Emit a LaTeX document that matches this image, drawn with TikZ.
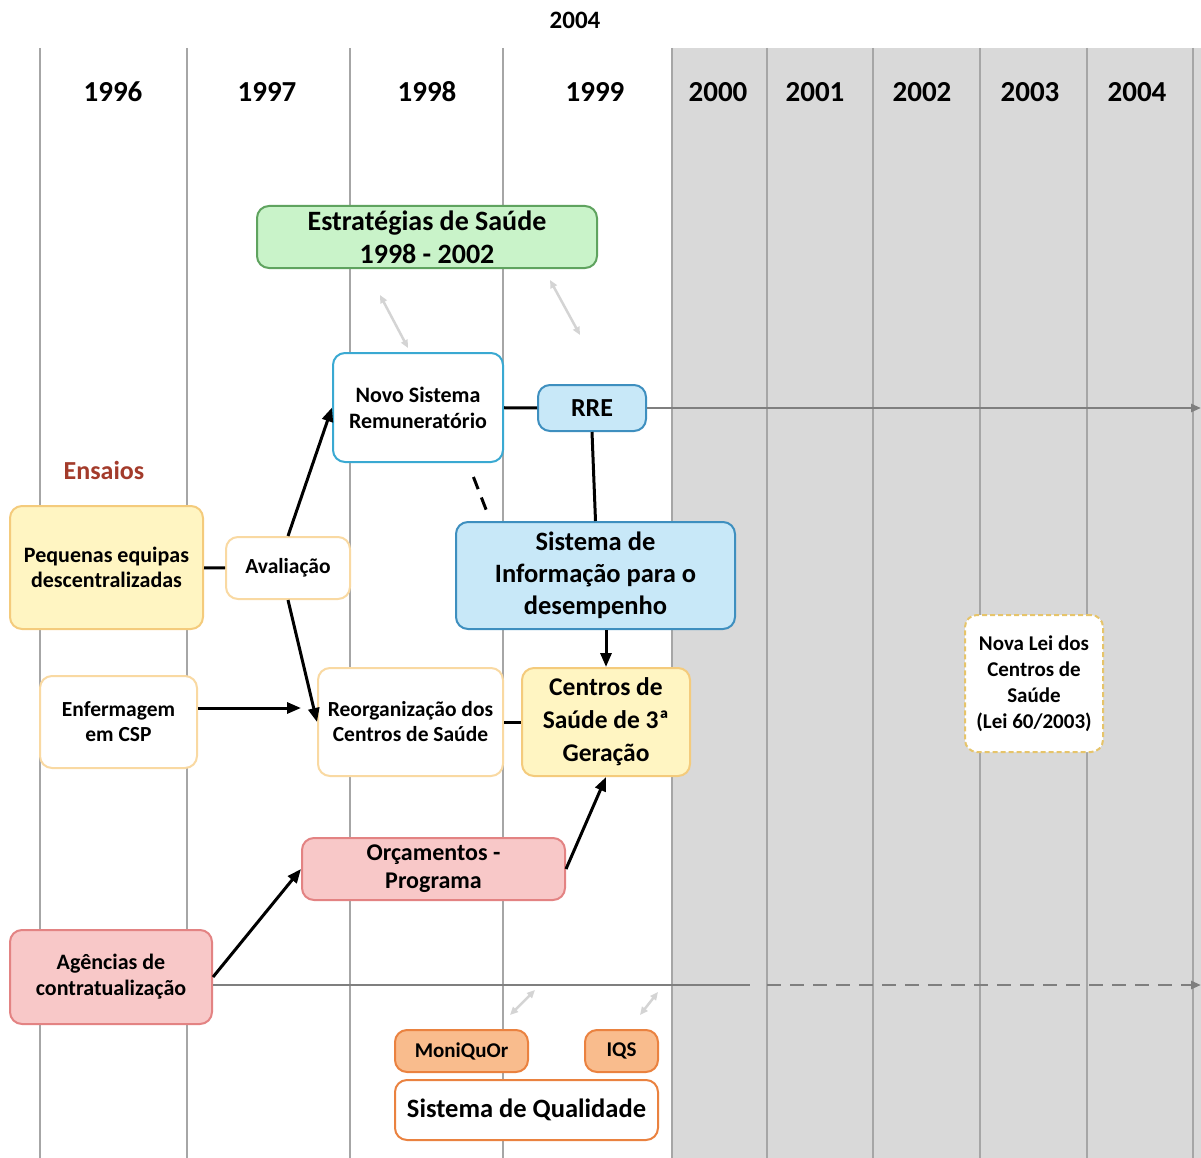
\documentclass[tikz,border=0pt]{standalone}
\usepackage{fontspec}
\setmainfont{Carlito}
\usetikzlibrary{arrows.meta}
\definecolor{shadegray}{HTML}{D9D9D9}
\definecolor{gridgray}{HTML}{A6A6A6}
\definecolor{arrowgray}{HTML}{7F7F7F}
\definecolor{faintgray}{HTML}{D4D4D4}
\definecolor{greenfill}{HTML}{C9F3C9}
\definecolor{greendraw}{HTML}{5FA35F}
\definecolor{bluefill}{HTML}{C8E8F8}
\definecolor{bluedraw}{HTML}{3E8FBF}
\definecolor{cyandraw}{HTML}{3AA9D2}
\definecolor{yellowfill}{HTML}{FFF5C2}
\definecolor{yellowdraw}{HTML}{F4CB7C}
\definecolor{paleorange}{HTML}{F9D9A2}
\definecolor{pinkfill}{HTML}{F8C8C8}
\definecolor{pinkdraw}{HTML}{E38383}
\definecolor{orangefill}{HTML}{F9BC8D}
\definecolor{orangedraw}{HTML}{EA8240}
\definecolor{ensaiored}{HTML}{A33B2B}
\definecolor{leidraw}{HTML}{E6C46A}
\newcommand\boxfont[2]{\fontsize{#1}{#2}\selectfont\bfseries}
\tikzset{
  box/.style={draw, rounded corners=12pt, line width=2pt, align=center, inner sep=2pt},
  greenbox/.style={box, draw=greendraw, fill=greenfill},
  bluebox/.style={box, draw=bluedraw, fill=bluefill},
  openblue/.style={box, draw=cyandraw, fill=white},
  yellowbox/.style={box, draw=yellowdraw, fill=yellowfill},
  whitebox/.style={box, draw=paleorange, fill=white},
  pinkbox/.style={box, draw=pinkdraw, fill=pinkfill},
  orangebox/.style={box, draw=orangedraw, fill=orangefill},
  qualbox/.style={box, draw=orangedraw, fill=white},
  leibox/.style={box, draw=leidraw, fill=white, dash pattern=on 5pt off 3pt},
  yearlabel/.style={font=\boxfont{29}{30}},
  gridline/.style={draw=gridgray, line width=1.5pt},
  link/.style={line width=3pt},
  arr/.style={line width=3pt, -{Triangle[length=14pt,width=11pt]}},
  grayarrow/.style={draw=arrowgray, line width=2.5pt, -{Triangle[length=10pt,width=8pt]}},
  faintarrow/.style={draw=faintgray, line width=2.5pt, {Triangle[length=8pt,width=7pt]}-{Triangle[length=8pt,width=7pt]}},
}
\begin{document}
\begin{tikzpicture}[x=1pt,y=-1pt]
\useasboundingbox (0,0) rectangle (1201,1158);
\fill[shadegray] (672,48) rectangle (1201,1158);
\foreach \x in {40,187,350,503,672,767,873,980,1087,1193}
  \draw[gridline] (\x,48) -- (\x,1158);
\node[font=\boxfont{25}{26}] (title) at (575,20) {2004};
\foreach \x/\yr in {113/1996,267/1997,427/1998,595/1999,718/2000,815/2001,922/2002,1030/2003,1137/2004}
  \node[yearlabel] (y\yr) at (\x,92) {\yr};

\node[greenbox, minimum width=340pt, minimum height=62pt, font=\boxfont{28}{33}] (est) at (427,237) {Estratégias de Saúde\\1998 - 2002};
\node[openblue, minimum width=170pt, minimum height=109pt, font=\boxfont{22}{26}] (nsr) at (418,407.5) {Novo Sistema\\Remuneratório};
\node[bluebox, minimum width=108pt, minimum height=46pt, font=\boxfont{26}{28}] (rre) at (592,408) {RRE};
\node[bluebox, minimum width=279pt, minimum height=107pt, font=\boxfont{26.5}{32}] (sid) at (595.5,575.5) {Sistema de\\Informação para o\\desempenho};
\node[yellowbox, minimum width=168pt, minimum height=108pt, font=\boxfont{25.5}{33}] (csg) at (606,722) {Centros de\\Saúde de 3ª\\Geração};
\node[font=\boxfont{26}{28}, text=ensaiored] (ensaios) at (104,470) {Ensaios};
\node[yellowbox, minimum width=193pt, minimum height=123pt, font=\boxfont{22}{25}] (peq) at (106.5,567.5) {Pequenas equipas\\descentralizadas};
\node[whitebox, minimum width=124pt, minimum height=62pt, font=\boxfont{21.5}{24}] (aval) at (288,568) {Avaliação};
\node[whitebox, minimum width=157pt, minimum height=92pt, font=\boxfont{21.5}{25}] (enf) at (118.5,722) {Enfermagem\\em CSP};
\node[whitebox, minimum width=185pt, minimum height=108pt, font=\boxfont{21.5}{25}] (reorg) at (410.5,722) {Reorganização dos\\Centros de Saúde};
\node[pinkbox, minimum width=263pt, minimum height=62pt, font=\boxfont{24}{28}] (orc) at (433.5,869) {Orçamentos -\\Programa};
\node[pinkbox, minimum width=202pt, minimum height=94pt, font=\boxfont{22}{26}] (agc) at (111,977) {Agências de\\contratualização};
\node[orangebox, minimum width=133pt, minimum height=42pt, font=\boxfont{21}{22}] (moni) at (461.5,1051) {MoniQuOr};
\node[orangebox, minimum width=73pt, minimum height=42pt, font=\boxfont{21}{22}] (iqs) at (621.5,1051) {IQS};
\node[qualbox, minimum width=263pt, minimum height=60pt, font=\boxfont{26.5}{28}] (squal) at (526.5,1110) {Sistema de Qualidade};
\node[leibox, minimum width=138pt, minimum height=137pt, font=\boxfont{21}{26}] (lei) at (1034,683.5) {Nova Lei dos\\Centros de\\Saúde\\(Lei 60/2003)};

\coordinate (rreend) at (1201,408);
\coordinate (agcsolid) at (750,985);
\coordinate (agcdash) at (767,985);
\coordinate (agcend) at (1201,985);
\coordinate (fa1) at (380,295);
\coordinate (fb1) at (408,348);
\coordinate (fa2) at (550,280);
\coordinate (fb2) at (580,335);
\coordinate (fa3) at (510,1015);
\coordinate (fb3) at (535,990);
\coordinate (fa4) at (640,1015);
\coordinate (fb4) at (658,992);

\draw[faintarrow] (fa1) -- (fb1);
\draw[faintarrow] (fa2) -- (fb2);
\draw[faintarrow] (fa3) -- (fb3);
\draw[faintarrow] (fa4) -- (fb4);
\draw[grayarrow] (rre.east) -- (rreend);
\draw[draw=arrowgray, line width=2.5pt] ([yshift=-8pt]agc.east) -- (agcsolid);
\draw[grayarrow, dash pattern=on 14pt off 9pt] (agcdash) -- (agcend);
\draw[link] (nsr) -- (rre);
\draw[link] (rre.south) -- (sid.north);
\draw[link, dash pattern=on 13pt off 9pt, shorten <=15pt, shorten >=5pt] ([xshift=50pt]nsr.south) -- ([xshift=-105pt]sid.north);
\draw[arr] (sid.south -| csg.north) -- (csg.north);
\draw[link] (peq) -- (aval);
\draw[arr] (aval.north) -- (nsr.west);
\draw[arr] (aval.south) -- (reorg.west);
\draw[arr, shorten >=16pt] ([yshift=14pt]enf.east) -- ([yshift=14pt]reorg.west);
\draw[link] (reorg) -- (csg);
\draw[arr] (orc.east) -- (csg.south);
\draw[arr] (agc.east) -- (orc.west);
\end{tikzpicture}
\end{document}
